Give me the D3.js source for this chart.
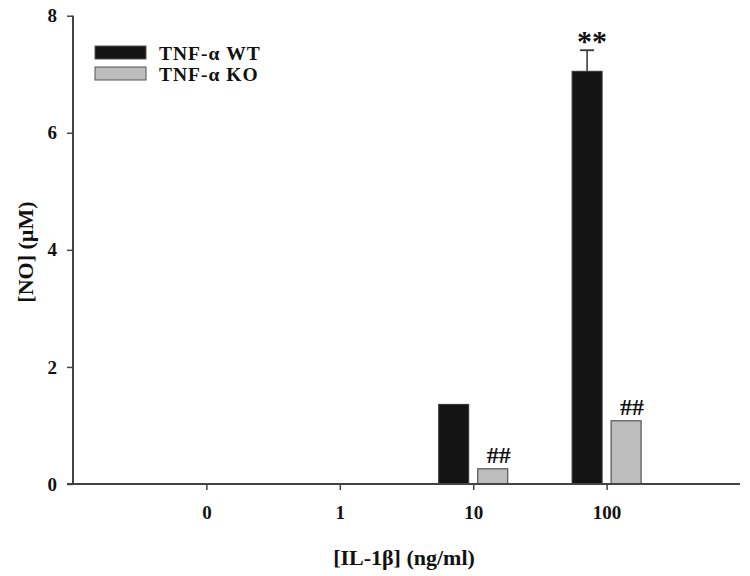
<!DOCTYPE html>
<html>
<head>
<meta charset="utf-8">
<title>NO vs IL-1b</title>
<script src="https://cdn.jsdelivr.net/npm/d3@7"></script>
<style>
    body { margin: 0; background: #fff; }
    text { font-family: "Liberation Serif", "Times New Roman", serif; font-weight: bold; fill: #111; }
</style>
</head>
<body>
<svg id="chart" width="750" height="576"></svg>
<script>
// data
const doses = ["0", "1", "10", "100"];
const wtValues = [0, 0, 1.36, 7.05];
const koValues = [0, 0, 0.26, 1.08];
const wtErrors = [0, 0, 0, 0.36];
const wtMarks = ["", "", "", "**"];
const koMarks = ["", "", "##", "##"];
const yTicks = [0, 2, 4, 6, 8];
const seriesNames = ["TNF-\u03b1 WT", "TNF-\u03b1 KO"];

const svg = d3.select("#chart");
const plotLeft = 73, plotRight = 740, plotTop = 15.7, plotBottom = 484;

const x = d3.scaleLinear().domain([-1, 4]).range([plotLeft, plotRight]);
const y = d3.scaleLinear().domain([0, 8]).range([plotBottom, plotTop]);
const barW = 30, half = 19.5;

// bars
const g = svg.append("g");
doses.forEach(function (d, i) {
    const cx = x(i);
    if (wtValues[i] > 0) {
        g.append("rect")
            .attr("x", cx - half - barW / 2).attr("y", y(wtValues[i]))
            .attr("width", barW).attr("height", y(0) - y(wtValues[i]))
            .attr("fill", "#141414").attr("stroke", "#333").attr("stroke-width", 1);
    }
    if (koValues[i] > 0) {
        g.append("rect")
            .attr("x", cx + half - barW / 2).attr("y", y(koValues[i]))
            .attr("width", barW).attr("height", y(0) - y(koValues[i]))
            .attr("fill", "#bdbdbd").attr("stroke", "#555").attr("stroke-width", 1.2);
    }
    if (wtErrors[i] > 0) {
        const ex = cx - half;
        const ey = y(wtValues[i] + wtErrors[i]);
        g.append("line").attr("x1", ex).attr("x2", ex)
            .attr("y1", y(wtValues[i])).attr("y2", ey)
            .attr("stroke", "#333").attr("stroke-width", 1.5);
        g.append("line").attr("x1", ex - 7).attr("x2", ex + 7)
            .attr("y1", ey).attr("y2", ey)
            .attr("stroke", "#333").attr("stroke-width", 1.8);
    }
    if (wtMarks[i]) {
        g.append("text").attr("x", cx - half + 5)
            .attr("y", y(wtValues[i] + wtErrors[i]) + 1)
            .attr("text-anchor", "middle").style("font-size", "30px")
            .text(wtMarks[i]);
    }
    if (koMarks[i]) {
        g.append("text").attr("x", cx + half + 6)
            .attr("y", y(koValues[i]) - 6)
            .attr("text-anchor", "middle").style("font-size", "24px")
            .text(koMarks[i]);
    }
});

// axes
const yAxis = d3.axisLeft(y).tickValues(yTicks).tickSize(6).tickPadding(10).tickFormat(d3.format("d"));
const yg = svg.append("g").attr("transform", "translate(" + plotLeft + ",0)").call(yAxis);
yg.select(".domain").attr("d", "M0," + plotTop + "V" + plotBottom);

const xAxis = d3.axisBottom(x).tickValues(d3.range(doses.length))
    .tickSize(6).tickPadding(16).tickFormat(function (i) { return doses[i]; });
const xg = svg.append("g").attr("transform", "translate(0," + plotBottom + ")").call(xAxis);
xg.select(".domain").attr("d", "M" + (plotLeft - 6) + ",0H" + plotRight);

svg.selectAll(".tick line").attr("stroke", "#444").attr("stroke-width", 1.5);
svg.selectAll(".domain").attr("stroke", "#444").attr("stroke-width", 2);
svg.selectAll(".tick text").style("font-size", "19px")
    .style("font-family", "'Liberation Serif', serif").style("font-weight", "bold").attr("fill", "#111");

// axis titles
svg.append("text").attr("x", 404).attr("y", 565).attr("text-anchor", "middle")
    .style("font-size", "22px").text("[IL-1\u03b2] (ng/ml)");
svg.append("text").attr("transform", "translate(33,252) rotate(-90)")
    .attr("text-anchor", "middle").style("font-size", "22px").text("[NO] (\u00b5M)");

// legend
const legendFills = ["#141414", "#bdbdbd"];
seriesNames.forEach(function (name, i) {
    const ly = 46 + i * 21;
    svg.append("rect").attr("x", 95).attr("y", ly).attr("width", 51).attr("height", 13)
        .attr("fill", legendFills[i]).attr("stroke", "#555").attr("stroke-width", 1);
    svg.append("text").attr("x", 159).attr("y", ly + 13.5)
        .style("font-size", "19.5px").style("letter-spacing", "1px").text(name);
});
</script>
</body>
</html>
